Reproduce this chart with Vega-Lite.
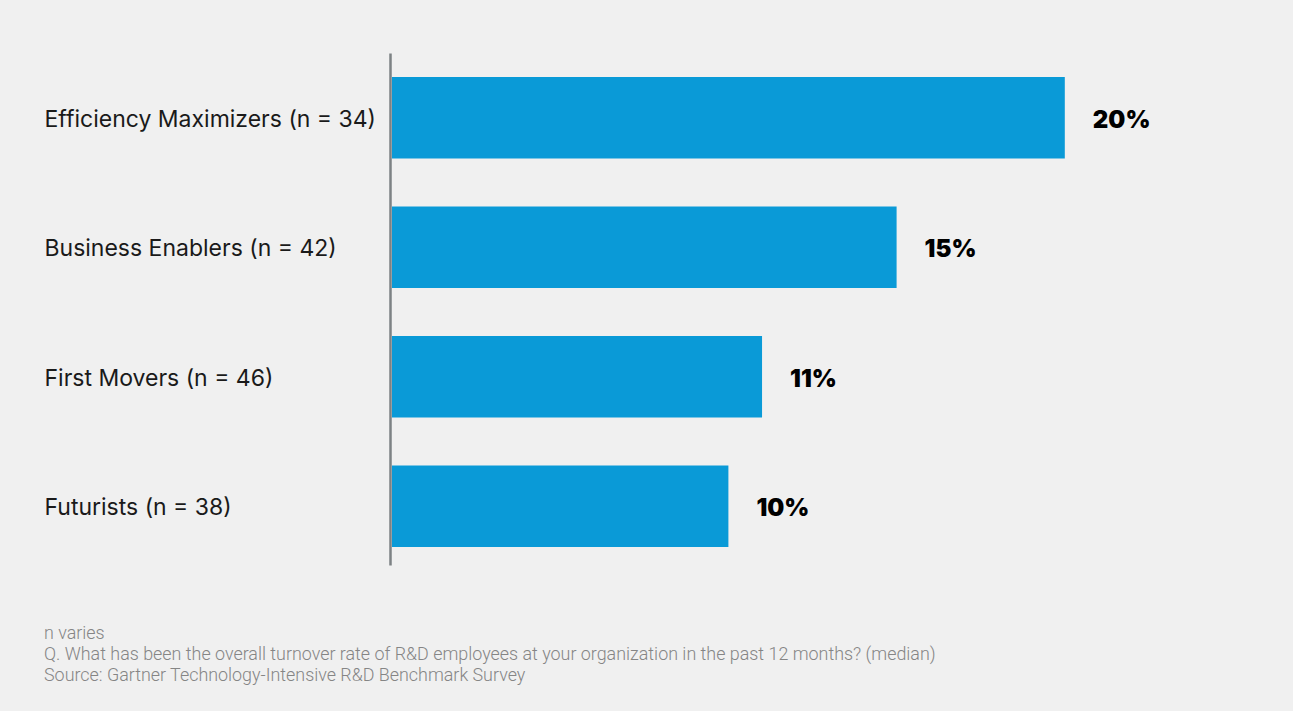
{
  "$schema": "https://vega.github.io/schema/vega-lite/v6.json",
  "autosize": "none",
  "width": 841,
  "height": 512,
  "padding": {"left": 392, "top": 53, "right": 60, "bottom": 146},
  "background": "#f0f0f0",
  "config": {"view": {"stroke": null}},
  "title": {
    "text": ["n varies", "Q. What has been the overall turnover rate of R&D employees at your organization in the past 12 months? (median)", "Source: Gartner Technology-Intensive R&D Benchmark Survey"],
    "orient": "bottom",
    "anchor": "start",
    "frame": "bounds",
    "offset": 60,
    "font": "Roboto",
    "fontSize": 17.9,
    "fontWeight": 300,
    "color": "#858585",
    "lineHeight": 21,
    "baseline": "top"
  },
  "data": {
    "values": [
      {"segment": "Efficiency Maximizers (n = 34)", "rate": 20, "label": "20%"},
      {"segment": "Business Enablers (n = 42)", "rate": 15, "label": "15%"},
      {"segment": "First Movers (n = 46)", "rate": 11, "label": "11%"},
      {"segment": "Futurists (n = 38)", "rate": 10, "label": "10%"}
    ]
  },
  "encoding": {
    "y": {
      "field": "segment",
      "type": "nominal",
      "sort": null,
      "scale": {"paddingInner": 0.371, "paddingOuter": 0.1625, "align": 0.57},
      "axis": {
        "title": null,
        "ticks": false,
        "offset": 2,
        "domainColor": "#7d8284",
        "domainWidth": 2.5,
        "labelAlign": "left",
        "labelPadding": 346,
        "labelFont": "Inter",
        "labelFontSize": 23,
        "labelColor": "#1a1a1a",
        "labelLimit": 400,
        "labelOffset": 2
      }
    },
    "x": {
      "field": "rate",
      "type": "quantitative",
      "scale": {"domain": [0, 25]},
      "axis": null
    }
  },
  "layer": [
    {"mark": {"type": "bar", "color": "#0a9ad7"}},
    {
      "mark": {"type": "text", "align": "left", "dx": 28, "dy": 3, "font": "Inter", "fontSize": 24, "fontWeight": 900, "color": "#000000"},
      "encoding": {"text": {"field": "label"}}
    }
  ]
}
